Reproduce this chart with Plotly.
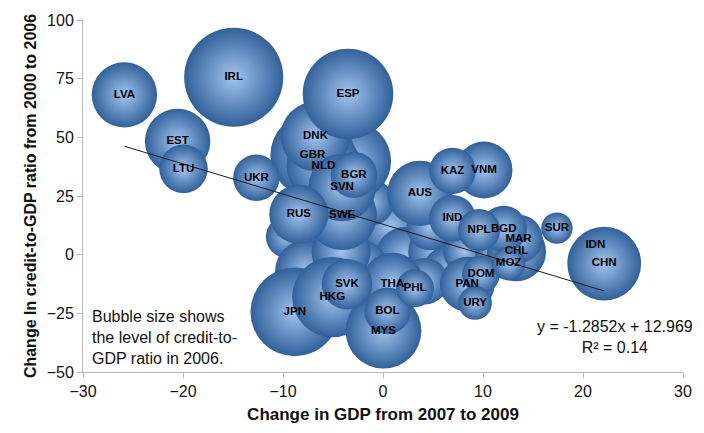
import plotly.graph_objects as go

# Change in GDP 2007-2009 (x), change in credit-to-GDP 2000-2006 (y),
# credit-to-GDP ratio in 2006 (bubble size). Unlabelled economies have "".
countries = [
    "", "", "", "", "", "", "", "", "", "", "", "", "", "", "", "", "", "",
    "IRL", "JPN", "GBR", "HKG", "MYS", "NLD", "IDN", "CHN", "DNK", "ESP",
    "SWE", "SVN", "LVA", "EST", "AUS", "THA", "RUS", "CHL", "VNM", "PAN",
    "SVK", "LTU", "MAR", "UKR", "BGR", "KAZ", "IND", "BGD", "BOL", "NPL",
    "DOM", "PHL", "MOZ", "URY", "SUR",
]
gdp_change = [
    -6.65, -1.23, 0.74, 2.22, 5.17, 6.65, 4.19, -2.22, -7.34, -9.61,
    8.13, 11.08, -1.23, -3.20, -7.64, -4.19, 4.68, -5.5,
    -14.93, -8.82, -7.04, -5.07, 0.05, -5.96, 21.23, 22.12, -6.75, -3.50,
    -4.09, -4.09, -25.86, -20.54, 3.69, 0.94, -8.42, 13.35, 10.10, 8.42,
    -3.60, -19.95, 13.55, -12.66, -2.91, 6.95, 6.95, 12.07, 0.44, 9.61,
    9.80, 3.20, 12.56, 9.21, 17.39,
]
credit_change = [
    -0.8, 5.5, 11.8, -0.8, 1.3, -7.1, -11.3, -5.0, 11.8, 7.6,
    1.3, 1.3, 22.3, 39.9, -7.1, 1.3, 11.8, 26.0,
    75.6, -24.4, 42.4, -18.1, -32.4, 37.8, 4.2, -3.8, 50.4, 68.5,
    16.8, 28.6, 68.1, 48.3, 26.1, -12.6, 17.2, 1.3, 36.1, -12.6,
    -12.6, 36.6, 6.7, 32.8, 34.0, 35.7, 15.5, 10.9, -23.9, 10.5,
    -8.4, -14.3, -3.8, -20.6, 11.3,
]
credit_ratio_2006 = [
    81, 81, 81, 71, 57, 57, 44, 57, 57, 36, 36, 29, 44, 131, 81, 71, 44, 70,
    200, 160, 145, 131, 117, 111, 18, 111, 99, 167,
    99, 93, 87, 87, 87, 81, 71, 71, 66, 61,
    52, 48, 48, 44, 44, 44, 44, 44, 44, 36,
    29, 29, 23, 23, 20,
]

# Linear trend reported for the sample
trend_slope = -1.2852
trend_intercept = 12.969
trend_r2 = 0.14

x_ticks = [-30, -20, -10, 0, 10, 20, 30]
y_ticks = [-50, -25, 0, 25, 50, 75, 100]

# bubble area proportional to the 2006 credit ratio
max_diameter = 94
size_ref = max(credit_ratio_2006) / (2.0 * max_diameter ** 2) * 3.6

fig = go.Figure()

fig.add_trace(go.Scatter(
    x=gdp_change, y=credit_change, mode="markers",
    marker=dict(
        size=credit_ratio_2006, sizemode="area", sizeref=size_ref,
        color="#31609a",
        gradient=dict(type="radial", color="#a2c5ef"),
        line=dict(width=0),
        opacity=1,
    ),
    hoverinfo="skip", showlegend=False,
))

x_lo, x_hi = min(gdp_change), max(gdp_change)
fig.add_trace(go.Scatter(
    x=[x_lo, x_hi],
    y=[trend_slope * x_lo + trend_intercept, trend_slope * x_hi + trend_intercept],
    mode="lines", line=dict(color="#1a1a1a", width=1),
    hoverinfo="skip", showlegend=False,
))

labelled = [i for i, c in enumerate(countries) if c]
fig.add_trace(go.Scatter(
    x=[gdp_change[i] for i in labelled],
    y=[credit_change[i] for i in labelled],
    text=[countries[i] for i in labelled],
    mode="text", textposition="middle center",
    textfont=dict(family="Liberation Sans, Arial", size=11.5, color="#000000",
                  weight="bold"),
    hoverinfo="skip", showlegend=False,
))

axis_common = dict(
    showgrid=False, zeroline=False, showline=True, linecolor="#b8b8b8",
    linewidth=1, ticks="outside", ticklen=5, tickcolor="#b8b8b8",
    tickfont=dict(family="Liberation Sans, Arial", size=16, color="#111111"),
)

fig.update_layout(
    width=704, height=433,
    margin=dict(l=83, r=12, t=15, b=61),
    paper_bgcolor="white", plot_bgcolor="white",
    xaxis=dict(range=[-30, 30], tickvals=x_ticks, **axis_common,
               title=dict(text="<b>Change in GDP from 2007 to 2009</b>",
                          font=dict(family="Liberation Sans, Arial", size=17,
                                    color="#111111"),
                          standoff=8)),
    yaxis=dict(range=[-50, 100], tickvals=y_ticks, **axis_common,
               title=dict(text="<b>Change In credit-to-GDP ratio from 2000 to 2006</b>",
                          font=dict(family="Liberation Sans, Arial", size=16,
                                    color="#111111"),
                          standoff=6)),
    annotations=[
        dict(x=-29.3, y=-22, xref="x", yref="y", xanchor="left", yanchor="top",
             align="left", showarrow=False,
             text="Bubble size shows<br>the level of credit-to-<br>GDP ratio in 2006.",
             font=dict(family="Liberation Sans, Arial", size=16, color="#111111")),
        dict(x=23.2, y=-26, xref="x", yref="y", xanchor="center", yanchor="top",
             align="center", showarrow=False,
             text=f"y = {trend_slope}x + {trend_intercept}<br>R² = {trend_r2}",
             font=dict(family="Liberation Sans, Arial", size=16, color="#111111")),
    ],
)

fig.write_html("out.html")
